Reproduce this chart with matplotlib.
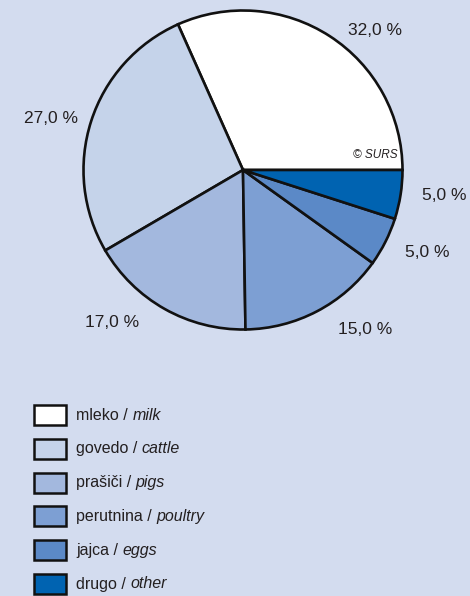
import numpy as np
import matplotlib
matplotlib.use("Agg")
import matplotlib.pyplot as plt
from matplotlib.patches import Rectangle

# data
labels_si = ['mleko', 'govedo', 'prašiči', 'perutnina', 'jajca', 'drugo']
labels_en = ['milk', 'cattle', 'pigs', 'poultry', 'eggs', 'other']
shares = [32.0, 27.0, 17.0, 15.0, 5.0, 5.0]
colors = ['#ffffff', '#c5d3ea', '#a3b8de', '#7d9fd3', '#5b89c7', '#0063b1']

bg = '#d3dcef'
txt = '#231f20'
plt.rcParams['font.family'] = ['Liberation Sans', 'DejaVu Sans']

fig = plt.figure(figsize=(4.7, 5.96), dpi=100, facecolor=bg)
ax = fig.add_axes([0, 0, 1, 1])
ax.set_facecolor(bg)

H = 596
cx, cy, R = 243, H - 170, 159.5
wedges, _ = ax.pie(shares, colors=colors, startangle=0, counterclock=True,
                   center=(cx, cy), radius=R, frame=True,
                   wedgeprops=dict(edgecolor='#111111', linewidth=1.9))
ax.set_xlim(0, 470)
ax.set_ylim(0, H)
ax.set_aspect('equal')
ax.axis('off')

# percent labels, nudged around the wedge middle like in the original
shift = [-10.0, 2.5, -11.5, 10.0, 3.0, 2.0]
dist = [1.21, 1.25, 1.25, 1.25, 1.26, 1.27]
for w, v, s, d in zip(wedges, shares, shift, dist):
    a = np.deg2rad((w.theta1 + w.theta2) / 2 + s)
    ax.text(cx + d * R * np.cos(a), cy + d * R * np.sin(a),
            f'{v:.1f}'.replace('.', ',') + ' %',
            ha='center', va='center_baseline', fontsize=12.5, color=txt)

ax.text(398, H - 155, '© SURS', ha='right', va='center', fontsize=8.5,
        style='italic', color=txt)

# legend drawn by hand (mixed upright / italic text)
fig.canvas.draw()
rend = fig.canvas.get_renderer()
y0, step = 415, 33.8
for i, (si, en, c) in enumerate(zip(labels_si, labels_en, colors)):
    y = H - (y0 + i * step)
    ax.add_patch(Rectangle((34, y - 10), 32, 20, facecolor=c,
                           edgecolor='#111111', linewidth=1.8))
    t = ax.text(76, y, si + ' / ', ha='left', va='center', fontsize=11.5, color=txt)
    bb = t.get_window_extent(renderer=rend)
    ax.text(bb.x1, y, en, ha='left', va='center', fontsize=11.5,
            style='italic', color=txt)

fig.savefig('out.png', dpi=100, facecolor=bg)
